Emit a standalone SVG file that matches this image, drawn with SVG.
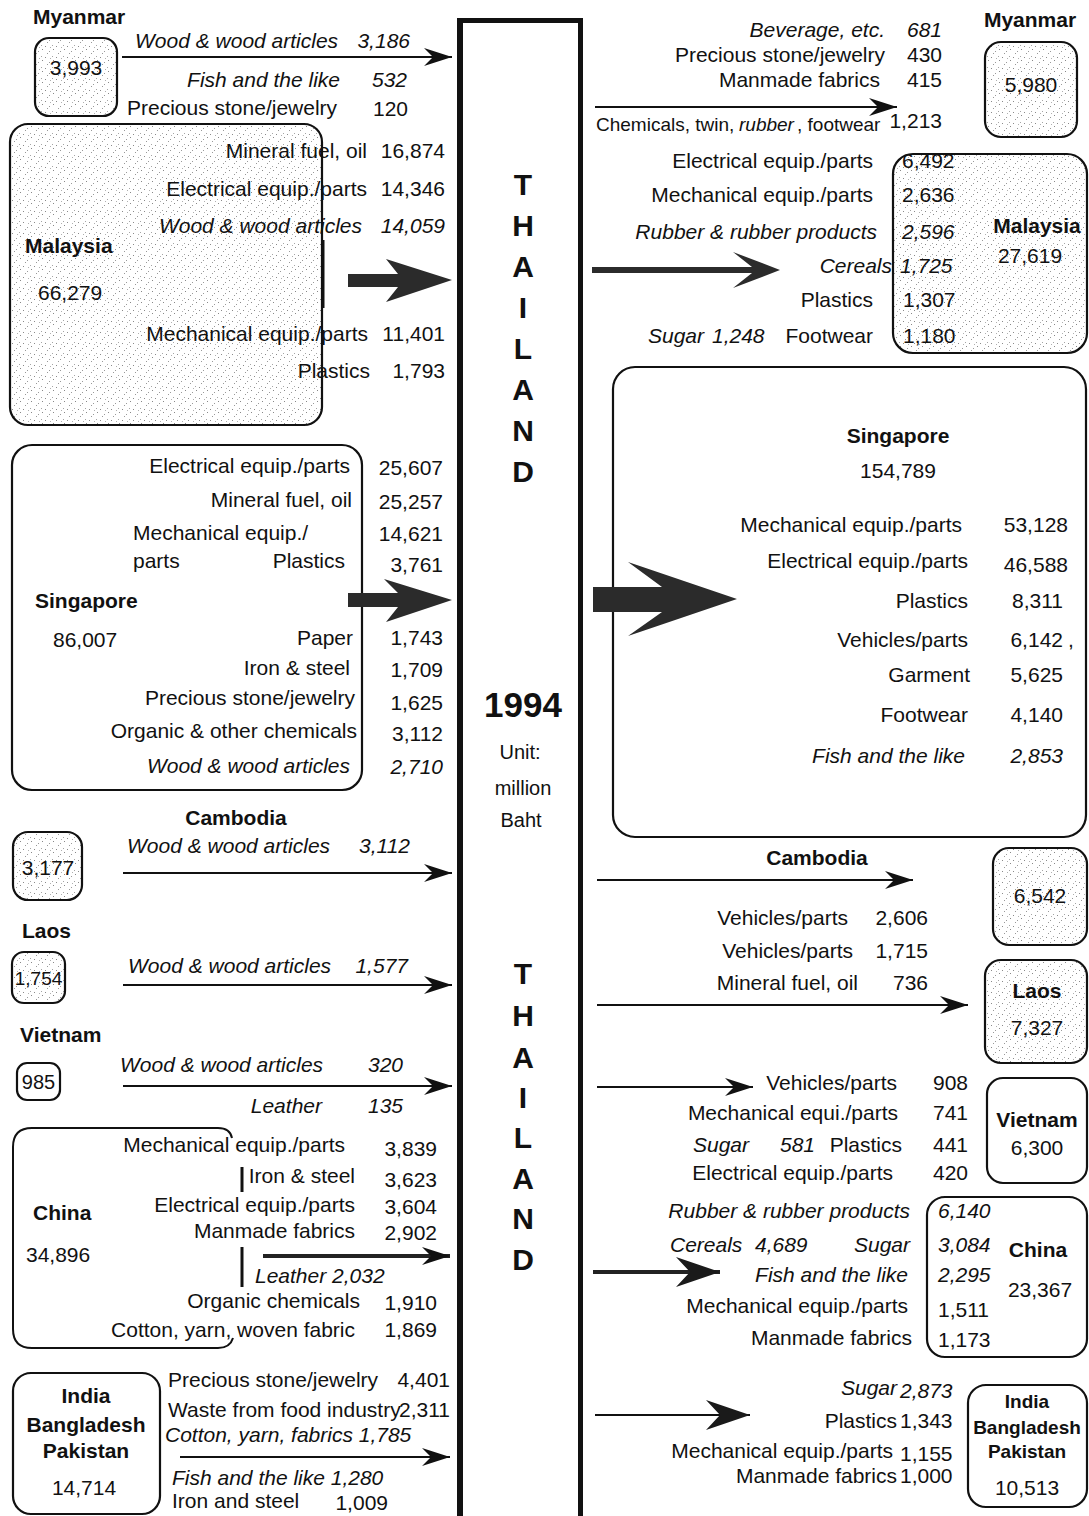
<svg xmlns="http://www.w3.org/2000/svg" width="1089" height="1516" viewBox="0 0 1089 1516">
  <style>
    .t { font-family: "Liberation Sans", Arial, Helvetica, sans-serif; font-size: 21px; fill: #111; }
    .i { font-style: italic; }
    .b { font-weight: bold; }
    .e { text-anchor: end; }
    .m { text-anchor: middle; }
    .big { font-family: "Liberation Sans", Arial, Helvetica, sans-serif; font-weight: bold; fill: #111; text-anchor: middle; }
    .ln { stroke: #111; stroke-width: 2; fill: none; }
    .ln3 { stroke: #222; stroke-width: 4; fill: none; }
    .box { stroke: #111; stroke-width: 2.2; fill: #fff; }
    .stip { stroke: #111; stroke-width: 2.2; fill: url(#stipple); }
    .bar { stroke: #111; stroke-width: 3; }
    .fat { fill: #2b2b2b; }
  </style>
  <defs>
    <pattern id="stipple" width="11" height="11" patternUnits="userSpaceOnUse">
      <rect width="11" height="11" fill="#fff"/>
      <rect x="1" y="2" width="1" height="1" fill="#8a8a8a"/>
      <rect x="5" y="7" width="1" height="1" fill="#9a9a9a"/>
      <rect x="8" y="1" width="1" height="1" fill="#a5a5a5"/>
      <rect x="3" y="9" width="1" height="1" fill="#999"/>
      <rect x="9" y="5" width="1" height="1" fill="#888"/>
      <rect x="6" y="3" width="1" height="1" fill="#b0b0b0"/>
    </pattern>
    <marker id="ah" markerUnits="userSpaceOnUse" markerWidth="32" markerHeight="22" viewBox="-30 -11 32 22" refX="0" refY="0" orient="auto">
      <path d="M0,0 L-28,-9 L-19,0 L-28,9 Z" fill="#111"/>
    </marker>
    <marker id="ahl" markerUnits="userSpaceOnUse" markerWidth="50" markerHeight="36" viewBox="-48 -18 50 36" refX="0" refY="0" orient="auto">
      <path d="M0,0 L-44,-15 L-30,0 L-44,15 Z" fill="#1a1a1a"/>
    </marker>
  </defs>

  <rect width="1089" height="1516" fill="#fff"/>

  <!-- Central Thailand column -->
  <g id="thailand">
    <rect x="457" y="18" width="125" height="5" fill="#111"/>
    <rect x="457" y="18" width="6" height="1498" fill="#111"/>
    <rect x="578" y="18" width="5" height="1498" fill="#111"/>
    <g class="big" font-size="30">
      <text x="523" y="195">T</text>
      <text x="523" y="236">H</text>
      <text x="523" y="277">A</text>
      <text x="523" y="318">I</text>
      <text x="523" y="359">L</text>
      <text x="523" y="400">A</text>
      <text x="523" y="441">N</text>
      <text x="523" y="482">D</text>
    </g>
    <text class="big" font-size="35" x="523" y="717">1994</text>
    <text class="t m" style="font-size:20px" x="520" y="759">Unit:</text>
    <text class="t m" style="font-size:20px" x="523" y="795">million</text>
    <text class="t m" style="font-size:20px" x="521" y="827">Baht</text>
    <g class="big" font-size="30">
      <text x="523" y="984">T</text>
      <text x="523" y="1026">H</text>
      <text x="523" y="1068">A</text>
      <text x="523" y="1108">I</text>
      <text x="523" y="1148">L</text>
      <text x="523" y="1189">A</text>
      <text x="523" y="1229">N</text>
      <text x="523" y="1270">D</text>
    </g>
  </g>

  <!-- Imports into Thailand (left) -->
  <g id="myanmar-in">
    <text class="t b" x="33" y="24">Myanmar</text>
    <rect class="stip" x="35" y="38" width="82" height="78" rx="14"/>
    <text class="t m" x="76" y="75">3,993</text>
    <text class="t i" x="135" y="48">Wood &amp; wood articles</text>
    <text class="t i e" x="410" y="48">3,186</text>
    <text class="t i e" x="340" y="87">Fish and the like</text>
    <text class="t i e" x="407" y="87">532</text>
    <text class="t" x="127" y="115">Precious stone/jewelry</text>
    <text class="t e" x="408" y="116">120</text>
  </g>

  <g id="malaysia-in">
    <rect class="stip" x="10" y="124" width="312" height="301" rx="18"/>
    <line class="bar" x1="323" y1="240" x2="323" y2="308"/>
    <text class="t b" x="25" y="253">Malaysia</text>
    <text class="t" x="38" y="300">66,279</text>
    <text class="t e" x="367" y="158">Mineral fuel, oil</text>
    <text class="t e" x="367" y="196">Electrical equip./parts</text>
    <text class="t i e" x="362" y="233">Wood &amp; wood articles</text>
    <text class="t e" x="368" y="341">Mechanical equip./parts</text>
    <text class="t e" x="370" y="378">Plastics</text>
    <text class="t e" x="445" y="158">16,874</text>
    <text class="t e" x="445" y="196">14,346</text>
    <text class="t i e" x="445" y="233">14,059</text>
    <text class="t e" x="445" y="341">11,401</text>
    <text class="t e" x="445" y="378">1,793</text>
  </g>

  <g id="singapore-in">
    <rect class="box" fill="none" x="12" y="445" width="350" height="345" rx="20"/>
    <text class="t e" x="350" y="473">Electrical equip./parts</text>
    <text class="t e" x="352" y="507">Mineral fuel, oil</text>
    <text class="t" x="133" y="540">Mechanical equip./</text>
    <text class="t" x="133" y="568">parts</text>
    <text class="t e" x="345" y="568">Plastics</text>
    <text class="t b" x="35" y="608">Singapore</text>
    <text class="t" x="53" y="647">86,007</text>
    <text class="t e" x="353" y="645">Paper</text>
    <text class="t e" x="350" y="675">Iron &amp; steel</text>
    <text class="t e" x="355" y="705">Precious stone/jewelry</text>
    <text class="t e" x="357" y="738">Organic &amp; other chemicals</text>
    <text class="t i e" x="350" y="773">Wood &amp; wood articles</text>
    <text class="t e" x="443" y="475">25,607</text>
    <text class="t e" x="443" y="509">25,257</text>
    <text class="t e" x="443" y="541">14,621</text>
    <text class="t e" x="443" y="572">3,761</text>
    <text class="t e" x="443" y="645">1,743</text>
    <text class="t e" x="443" y="677">1,709</text>
    <text class="t e" x="443" y="710">1,625</text>
    <text class="t e" x="443" y="741">3,112</text>
    <text class="t i e" x="443" y="774">2,710</text>
  </g>

  <g id="cambodia-in">
    <text class="t b m" x="236" y="825">Cambodia</text>
    <rect class="stip" x="13" y="832" width="69" height="68" rx="15"/>
    <text class="t m" x="48" y="875">3,177</text>
    <text class="t i" x="127" y="853">Wood &amp; wood articles</text>
    <text class="t i e" x="410" y="853">3,112</text>
  </g>

  <g id="laos-in">
    <text class="t b" x="22" y="938">Laos</text>
    <rect class="stip" x="12" y="952" width="53" height="51" rx="12"/>
    <text class="t m" style="font-size:19px" x="38.5" y="985">1,754</text>
    <text class="t i" x="128" y="973">Wood &amp; wood articles</text>
    <text class="t i e" x="408" y="973">1,577</text>
  </g>

  <g id="vietnam-in">
    <text class="t b" x="20" y="1042">Vietnam</text>
    <rect class="box" x="17" y="1063" width="43" height="37" rx="10"/>
    <text class="t m" style="font-size:20px" x="38.5" y="1089">985</text>
    <text class="t i" x="120" y="1072">Wood &amp; wood articles</text>
    <text class="t i e" x="403" y="1072">320</text>
    <text class="t i e" x="322" y="1113">Leather</text>
    <text class="t i e" x="403" y="1113">135</text>
  </g>

  <g id="china-in">
    <path class="ln" d="M232,1138 Q230,1128 218,1128 L32,1128 Q13,1128 13,1147 L13,1329 Q13,1348 32,1348 L218,1348 Q230,1348 233,1338"/>
    <line class="bar" x1="242" y1="1167" x2="242" y2="1192"/>
    <line class="bar" x1="242" y1="1247" x2="242" y2="1287"/>
    <text class="t b" x="33" y="1220">China</text>
    <text class="t" x="26" y="1262">34,896</text>
    <text class="t e" x="345" y="1152">Mechanical equip./parts</text>
    <text class="t e" x="355" y="1183">Iron &amp; steel</text>
    <text class="t e" x="355" y="1212">Electrical equip./parts</text>
    <text class="t e" x="355" y="1238">Manmade fabrics</text>
    <text class="t i" x="255" y="1283">Leather 2,032</text>
    <text class="t e" x="360" y="1308">Organic chemicals</text>
    <text class="t e" x="355" y="1337">Cotton, yarn, woven fabric</text>
    <text class="t e" x="437" y="1156">3,839</text>
    <text class="t e" x="437" y="1187">3,623</text>
    <text class="t e" x="437" y="1214">3,604</text>
    <text class="t e" x="437" y="1240">2,902</text>
    <text class="t e" x="437" y="1310">1,910</text>
    <text class="t e" x="437" y="1337">1,869</text>
  </g>

  <g id="india-in">
    <rect class="box" x="13" y="1373" width="147" height="141" rx="18"/>
    <text class="t b m" x="86" y="1403">India</text>
    <text class="t b m" x="86" y="1432">Bangladesh</text>
    <text class="t b m" x="86" y="1458">Pakistan</text>
    <text class="t m" x="84" y="1495">14,714</text>
    <text class="t" x="168" y="1387">Precious stone/jewelry</text>
    <text class="t e" x="450" y="1387">4,401</text>
    <text class="t" x="168" y="1417">Waste from food industry</text>
    <text class="t e" x="450" y="1417">2,311</text>
    <text class="t i" x="165" y="1442">Cotton, yarn, fabrics 1,785</text>
    <text class="t i" x="172" y="1485">Fish and the like 1,280</text>
    <text class="t" x="172" y="1508">Iron and steel</text>
    <text class="t e" x="388" y="1510">1,009</text>
  </g>

  <!-- Exports from Thailand (right) -->
  <g id="myanmar-out">
    <text class="t i e" x="885" y="37">Beverage, etc.</text>
    <text class="t i e" x="942" y="37">681</text>
    <text class="t e" x="885" y="62">Precious stone/jewelry</text>
    <text class="t e" x="942" y="62">430</text>
    <text class="t e" x="880" y="87">Manmade fabrics</text>
    <text class="t e" x="942" y="87">415</text>
    <text class="t" style="font-size:19px" x="596" y="131">Chemicals, twin,</text>
    <text class="t i" style="font-size:19px" x="739" y="131">rubber</text>
    <text class="t" style="font-size:19px" x="797" y="131">, footwear</text>
    <text class="t e" x="942" y="128">1,213</text>
    <text class="t b m" x="1030" y="27">Myanmar</text>
    <rect class="stip" x="985" y="42" width="92" height="95" rx="16"/>
    <text class="t m" x="1031" y="92">5,980</text>
  </g>

  <g id="malaysia-out">
    <rect class="stip" x="893" y="154" width="194" height="199" rx="20"/>
    <text class="t e" x="873" y="168">Electrical equip./parts</text>
    <text class="t e" x="873" y="202">Mechanical equip./parts</text>
    <text class="t i e" x="877" y="239">Rubber &amp; rubber products</text>
    <text class="t i e" x="892" y="273">Cereals</text>
    <text class="t e" x="873" y="307">Plastics</text>
    <text class="t e" x="873" y="343">Footwear</text>
    <text class="t i" x="648" y="343">Sugar</text>
    <text class="t i" x="712" y="343">1,248</text>
    <text class="t" x="902" y="168">6,492</text>
    <text class="t" x="902" y="202">2,636</text>
    <text class="t i" x="902" y="239">2,596</text>
    <text class="t i" x="900" y="273">1,725</text>
    <text class="t" x="903" y="307">1,307</text>
    <text class="t" x="903" y="343">1,180</text>
    <text class="t b m" x="1037" y="233">Malaysia</text>
    <text class="t m" x="1030" y="263">27,619</text>
  </g>

  <g id="singapore-out">
    <rect class="box" fill="none" x="613" y="367" width="473" height="470" rx="22"/>
    <text class="t b m" x="898" y="443">Singapore</text>
    <text class="t m" x="898" y="478">154,789</text>
    <text class="t e" x="962" y="532">Mechanical equip./parts</text>
    <text class="t e" x="968" y="568">Electrical equip./parts</text>
    <text class="t e" x="968" y="608">Plastics</text>
    <text class="t e" x="968" y="647">Vehicles/parts</text>
    <text class="t e" x="970" y="682">Garment</text>
    <text class="t e" x="968" y="722">Footwear</text>
    <text class="t i e" x="965" y="763">Fish and the like</text>
    <text class="t e" x="1068" y="532">53,128</text>
    <text class="t e" x="1068" y="572">46,588</text>
    <text class="t e" x="1063" y="608">8,311</text>
    <text class="t e" x="1063" y="647">6,142</text>
    <text class="t" x="1068" y="647">,</text>
    <text class="t e" x="1063" y="682">5,625</text>
    <text class="t e" x="1063" y="722">4,140</text>
    <text class="t i e" x="1063" y="763">2,853</text>
  </g>

  <g id="cambodia-out">
    <text class="t b m" x="817" y="865">Cambodia</text>
    <rect class="stip" x="993" y="848" width="94" height="97" rx="16"/>
    <text class="t m" x="1040" y="903">6,542</text>
    <text class="t e" x="848" y="925">Vehicles/parts</text>
    <text class="t e" x="928" y="925">2,606</text>
  </g>

  <g id="laos-out">
    <text class="t e" x="853" y="958">Vehicles/parts</text>
    <text class="t e" x="928" y="958">1,715</text>
    <text class="t e" x="858" y="990">Mineral fuel, oil</text>
    <text class="t e" x="928" y="990">736</text>
    <rect class="stip" x="985" y="960" width="102" height="103" rx="16"/>
    <text class="t b m" x="1037" y="998">Laos</text>
    <text class="t m" x="1037" y="1035">7,327</text>
  </g>

  <g id="vietnam-out">
    <text class="t e" x="897" y="1090">Vehicles/parts</text>
    <text class="t e" x="968" y="1090">908</text>
    <text class="t e" x="898" y="1120">Mechanical equi./parts</text>
    <text class="t e" x="968" y="1120">741</text>
    <text class="t i" x="693" y="1152">Sugar</text>
    <text class="t i" x="780" y="1152">581</text>
    <text class="t e" x="902" y="1152">Plastics</text>
    <text class="t e" x="968" y="1152">441</text>
    <text class="t e" x="893" y="1180">Electrical equip./parts</text>
    <text class="t e" x="968" y="1180">420</text>
    <rect class="box" x="987" y="1078" width="100" height="105" rx="16"/>
    <text class="t b m" x="1037" y="1127">Vietnam</text>
    <text class="t m" x="1037" y="1155">6,300</text>
  </g>

  <g id="china-out">
    <rect class="box" x="927" y="1197" width="160" height="160" rx="18"/>
    <text class="t i e" x="910" y="1218">Rubber &amp; rubber products</text>
    <text class="t i" x="670" y="1252">Cereals</text>
    <text class="t i" x="755" y="1252">4,689</text>
    <text class="t i e" x="910" y="1252">Sugar</text>
    <text class="t i e" x="908" y="1282">Fish and the like</text>
    <text class="t e" x="908" y="1313">Mechanical equip./parts</text>
    <text class="t e" x="912" y="1345">Manmade fabrics</text>
    <text class="t i" x="938" y="1218">6,140</text>
    <text class="t i" x="938" y="1252">3,084</text>
    <text class="t i" x="938" y="1282">2,295</text>
    <text class="t" x="938" y="1317">1,511</text>
    <text class="t" x="938" y="1347">1,173</text>
    <text class="t b m" x="1038" y="1257">China</text>
    <text class="t m" x="1040" y="1297">23,367</text>
  </g>

  <g id="india-out">
    <rect class="box" x="968" y="1385" width="119" height="122" rx="18"/>
    <text class="t b m" style="font-size:19px" x="1027" y="1408">India</text>
    <text class="t b m" style="font-size:19px" x="1027" y="1434">Bangladesh</text>
    <text class="t b m" style="font-size:19px" x="1027" y="1458">Pakistan</text>
    <text class="t m" x="1027" y="1495">10,513</text>
    <text class="t i e" x="897" y="1395">Sugar</text>
    <text class="t i" x="900" y="1398">2,873</text>
    <text class="t e" x="897" y="1428">Plastics</text>
    <text class="t" x="900" y="1428">1,343</text>
    <text class="t e" x="893" y="1458">Mechanical equip./parts</text>
    <text class="t" x="900" y="1461">1,155</text>
    <text class="t e" x="897" y="1483">Manmade fabrics</text>
    <text class="t" x="900" y="1483">1,000</text>
  </g>

  <!-- Trade flow arrows -->
  <g id="connectors">
    <line class="ln" x1="122" y1="57" x2="452" y2="57" marker-end="url(#ah)"/>
    <polygon class="fat" points="348,274 398,274 386,259 452,280 386,302 398,287 348,287"/>
    <polygon class="fat" points="348,593 398,593 384,579 452,600 386,622 398,607 348,607"/>
    <line class="ln" x1="123" y1="873" x2="452" y2="873" marker-end="url(#ah)"/>
    <line class="ln" x1="123" y1="985" x2="452" y2="985" marker-end="url(#ah)"/>
    <line class="ln" x1="123" y1="1086" x2="452" y2="1086" marker-end="url(#ah)"/>
    <line class="ln3" x1="263" y1="1256" x2="450" y2="1256" marker-end="url(#ah)"/>
    <line class="ln" x1="180" y1="1457" x2="450" y2="1457" marker-end="url(#ah)"/>

    <line class="ln" x1="595" y1="107" x2="897" y2="107" marker-end="url(#ah)"/>
    <polygon class="fat" points="592,267 752,267 733,252 780,270 733,288 752,273 592,273"/>
    <polygon class="fat" points="593,587 662,587 628,562 737,599 628,636 662,612 593,612"/>
    <line class="ln" x1="597" y1="880" x2="913" y2="880" marker-end="url(#ah)"/>
    <line class="ln" x1="597" y1="1005" x2="968" y2="1005" marker-end="url(#ah)"/>
    <line class="ln" x1="597" y1="1087" x2="753" y2="1087" marker-end="url(#ah)"/>
    <line class="ln3" x1="593" y1="1272" x2="720" y2="1272" marker-end="url(#ahl)"/>
    <line class="ln" x1="595" y1="1415" x2="750" y2="1415" marker-end="url(#ahl)"/>
  </g>
</svg>
